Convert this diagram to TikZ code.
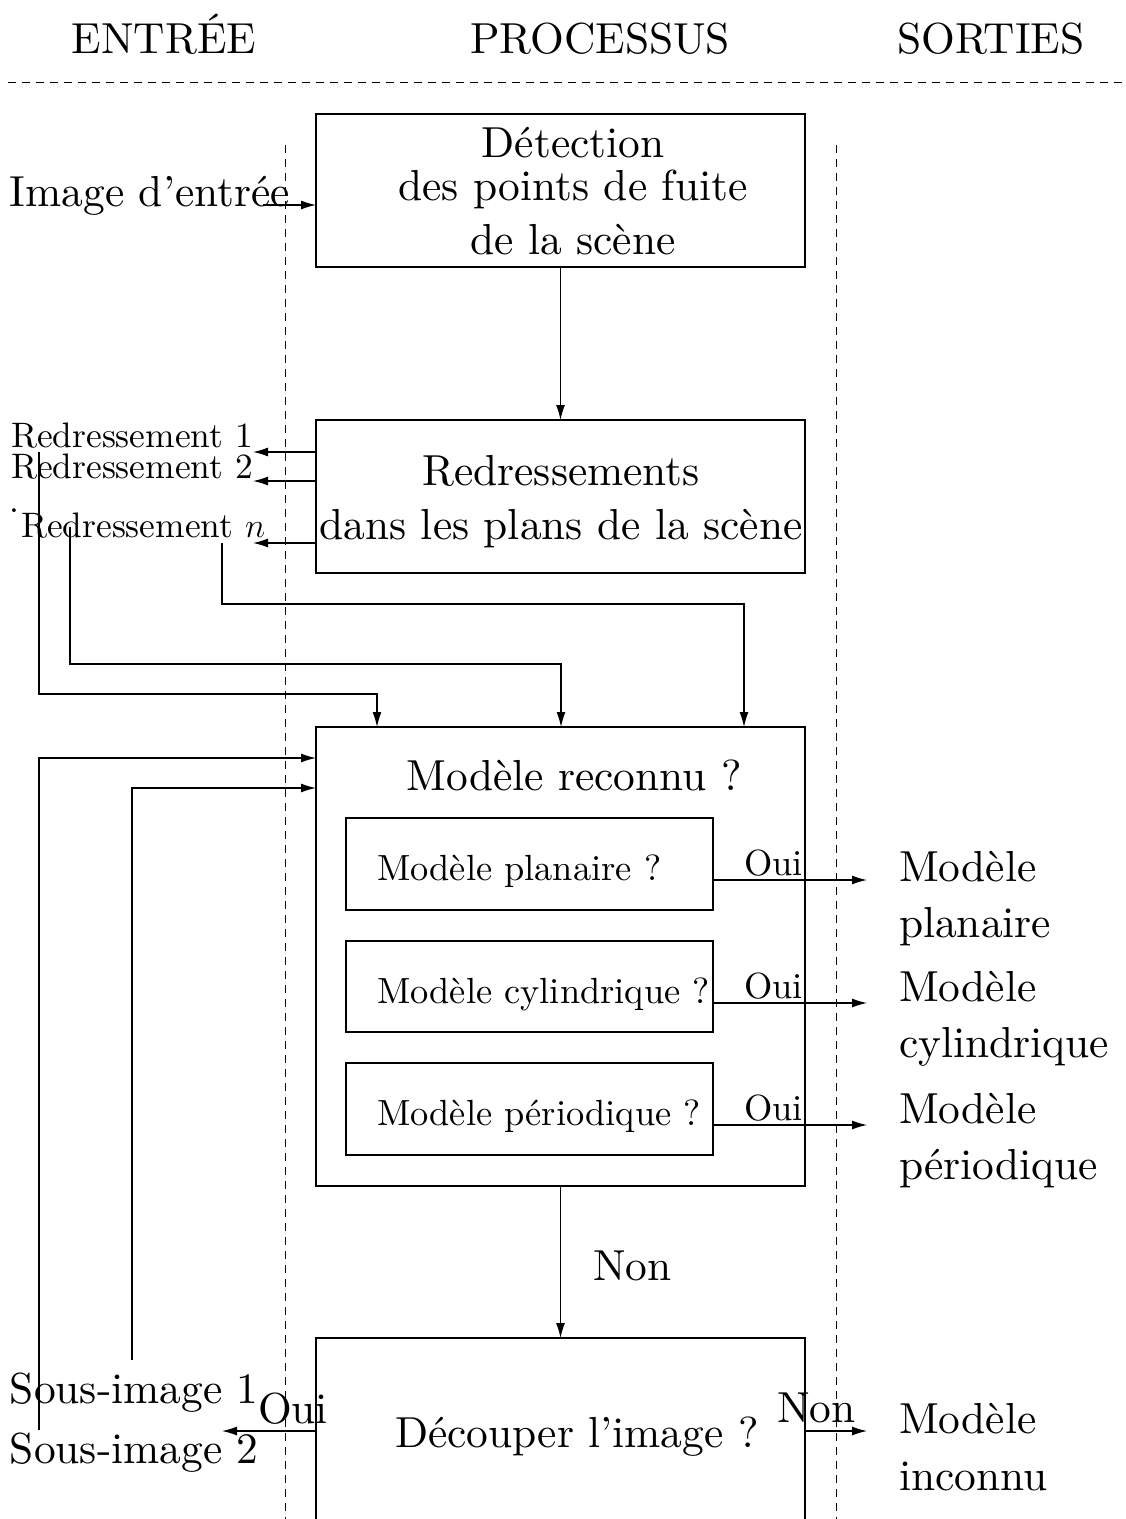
\documentclass[tikz,border=0pt]{standalone}
\usepackage{fontspec}
\setmainfont{lmroman10-regular.otf}[ItalicFont=lmroman10-italic.otf]
\usetikzlibrary{arrows.meta}
\begin{document}
\begin{tikzpicture}[x=0.5pt,y=-0.5pt,
  every node/.style={inner sep=0pt, outer sep=0pt},
  big/.style={font=\fontsize{21.7}{27}\selectfont},
  small/.style={font=\fontsize{18.2}{22}\selectfont},
  redr/.style={font=\fontsize{17.7}{21}\selectfont},
  box/.style={draw, line width=0.6pt},
  conn/.style={line width=0.6pt, -{Latex[length=7.5pt,width=4.5pt]}},
  sep/.style={line width=0.5pt, dash pattern=on 4pt off 3pt},
]
\useasboundingbox (0,0) rectangle (1125,1519);

% headers
\node[big, anchor=base] (hin) at (164,54) {ENTRÉE};
\node[big, anchor=base] (hpr) at (600,54) {PROCESSUS};
\node[big, anchor=base] (hout) at (991,54) {SORTIES};
\draw[sep] (8,83) -- (1125,83);
\draw[sep] (285,145) -- (285,1519);
\draw[sep] (836,145) -- (836,1519);

% boxes
\node[box, minimum width=244.5pt, minimum height=76.5pt] (b1) at (560.5,190.5) {};
\node[box, minimum width=244.5pt, minimum height=76.5pt] (b2) at (560.5,496.5) {};
\node[box, minimum width=244.5pt, minimum height=229.5pt] (b3) at (560.5,956.5) {};
\node[box, minimum width=183.5pt, minimum height=46pt] (i1) at (529.5,864) {};
\node[box, minimum width=183.5pt, minimum height=45.5pt] (i2) at (529.5,986.5) {};
\node[box, minimum width=183.5pt, minimum height=46pt] (i3) at (529.5,1109) {};
\node[box, minimum width=244.5pt, minimum height=150pt] (b4) at (560.5,1488) {};

% box texts
\node[big, align=center] (t1) at (573,191) {Détection\\[-5.5pt]des points de fuite\\de la scène};
\node[big, align=center] (t2) at (561,502) {Redressements\\dans les plans de la scène};
\node[big, anchor=base] (t3) at (574,790) {Modèle reconnu ?};
\node[small, anchor=base west] (it1) at (377,880) {Modèle planaire ?};
\node[small, anchor=base west] (it2) at (377,1003) {Modèle cylindrique ?};
\node[small, anchor=base west] (it3) at (377,1125) {Modèle périodique ?};
\node[big, anchor=base west] (t4) at (395,1447) {Découper l’image ?};

% inputs
\node[big, anchor=base west] (img) at (10,207) {Image d’entrée};
\coordinate (inarr) at (263,205);
\draw[conn] (inarr) -- (inarr -| b1.west);

\draw[conn] (b1.south) -- (b2.north);

% redressements
\node[redr, anchor=base west] (rd1) at (11,447) {Redressement 1};
\node[redr, anchor=base west] (rd2) at (11,478) {Redressement 2};
\node[redr, anchor=base west] (rdn) at (21,537) {Redressement $n$};
\node[redr] (dot) at (14,511) {.};
\coordinate (r1) at (253,452);
\coordinate (r2) at (253,481);
\coordinate (rn) at (253,543);
\draw[conn] (b2.west |- r1) -- (r1);
\draw[conn] (b2.west |- r2) -- (r2);
\draw[conn] (b2.west |- rn) -- (rn);

\coordinate (d1) at (39,452);
\coordinate (d2) at (70,527);
\coordinate (d3) at (222,543);
\coordinate (k1) at (377,694);
\coordinate (k2) at (561,664);
\coordinate (k3) at (744,604);
\draw[conn] (d1) |- (k1) -- (k1 |- b3.north);
\draw[conn] (d2) |- (k2) -- (k2 |- b3.north);
\draw[conn] (d3) |- (k3) -- (k3 |- b3.north);

% outputs of inner boxes
\coordinate (a1) at (867,880);
\coordinate (a2) at (867,1003);
\coordinate (a3) at (867,1125);
\draw[conn] (i1.east |- a1) -- (a1);
\draw[conn] (i2.east |- a2) -- (a2);
\draw[conn] (i3.east |- a3) -- (a3);
\node[small, anchor=base west] (y1) at (744,875) {Oui};
\node[small, anchor=base west] (y2) at (744,998) {Oui};
\node[small, anchor=base west] (y3) at (744,1120) {Oui};
\node[big, align=left, anchor=north west] (m1) at (899,851) {Modèle\\[1pt]planaire};
\node[big, align=left, anchor=north west] (m2) at (899,971) {Modèle\\[1pt]cylindrique};
\node[big, align=left, anchor=north west] (m3) at (899,1093) {Modèle\\[1pt]périodique};

% Non -> découper
\draw[conn] (b3.south) -- (b4.north);
\node[big, anchor=base west] (non1) at (593,1280) {Non};

% découper outputs
\coordinate (o1) at (222,1431);
\coordinate (o2) at (867,1431);
\draw[conn] (b4.west |- o1) -- (o1);
\draw[conn] (b4.east |- o2) -- (o2);
\node[big, anchor=base west] (oui4) at (258,1423) {Oui};
\node[big, anchor=base west] (non4) at (777,1422) {Non};
\node[big, anchor=base west] (s1) at (10,1403) {Sous-image 1};
\node[big, anchor=base west] (s2) at (10,1463) {Sous-image 2};
\node[big, align=left, anchor=north west] (m4) at (899,1403) {Modèle\\[1.5pt]inconnu};

% feedback
\coordinate (f1) at (39,1430);
\coordinate (f2) at (132,1360);
\coordinate (e1) at (0,758);
\coordinate (e2) at (0,788);
\draw[conn] (f1) |- (b3.west |- e1);
\draw[conn] (f2) |- (b3.west |- e2);
\end{tikzpicture}
\end{document}
